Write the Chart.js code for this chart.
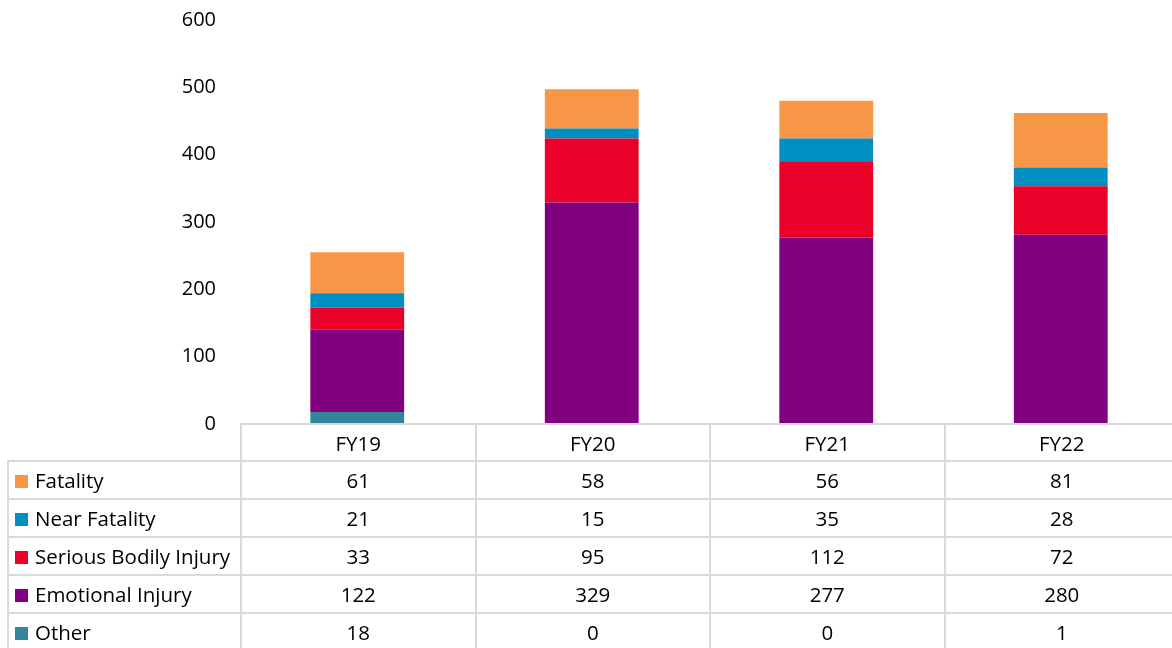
<!DOCTYPE html>
<html>
<head>
<meta charset="utf-8">
<script src="https://cdn.jsdelivr.net/npm/chart.js@4"></script>
<style>
  html, body { margin: 0; padding: 0; background: #fff; overflow: hidden; }
  #wrap { position: relative; width: 1178px; height: 648px; }
  #chart { position: absolute; left: 0; top: 0; }
  #tbl { position: absolute; border-collapse: collapse; table-layout: fixed;
         font-family: "Open Sans", sans-serif; font-size: 20.5px; color: #000; }
  #tbl td { border: 2px solid #d9d9d9; padding: 0; text-align: center; white-space: nowrap; overflow: hidden; line-height: 20px; }
  #tbl td.lab { text-align: left; padding-left: 6px; }
  #tbl td.blank { border-top: none; border-left: none; }
  .key { display: inline-block; width: 13px; height: 13px; margin-right: 7px; vertical-align: 0px; }
</style>
</head>
<body>
<div id="wrap">
  <canvas id="chart" width="1178" height="648"></canvas>
  <table id="tbl"></table>
</div>
<script>
const categories = ["FY19", "FY20", "FY21", "FY22"];
const fatality = [61, 58, 56, 81];
const nearFatality = [21, 15, 35, 28];
const seriousBodilyInjury = [33, 95, 112, 72];
const emotionalInjury = [122, 329, 277, 280];
const other = [18, 0, 0, 1];
const yTicks = [0, 100, 200, 300, 400, 500, 600];

// stacked bottom -> top
const series = [
  { label: "Other", data: other, color: "#31859c" },
  { label: "Emotional Injury", data: emotionalInjury, color: "#800080" },
  { label: "Serious Bodily Injury", data: seriousBodilyInjury, color: "#ea0029" },
  { label: "Near Fatality", data: nearFatality, color: "#008fc0" },
  { label: "Fatality", data: fatality, color: "#f79646" }
];

const FONT = "'Open Sans', sans-serif";

function buildTable(chart) {
  const tbl = document.getElementById("tbl");
  const area = chart.chartArea;
  const xs = chart.scales.x;
  const colW = (area.right - area.left) / categories.length;
  const left0 = 7;
  tbl.style.left = left0 + "px";
  tbl.style.top = (area.bottom - 1) + "px";
  let html = "<colgroup><col style='width:" + (area.left - left0) + "px'>";
  categories.forEach(() => { html += "<col style='width:" + colW + "px'>"; });
  html += "</colgroup>";
  html += "<tr style='height:37px'><td class='blank'></td>";
  categories.forEach((c, i) => { html += "<td>" + xs.getLabelForValue(i) + "</td>"; });
  html += "</tr>";
  series.slice().reverse().forEach(s => {
    html += "<tr style='height:38px'><td class='lab'><span class='key' style='background:" + s.color + "'></span>" + s.label + "</td>";
    s.data.forEach(v => { html += "<td>" + v + "</td>"; });
    html += "</tr>";
  });
  tbl.innerHTML = html;
  tbl.style.width = (area.left - left0 + colW * categories.length) + "px";
}

new Chart(document.getElementById("chart"), {
  type: "bar",
  data: {
    labels: categories,
    datasets: series.map(s => ({
      label: s.label,
      data: s.data,
      backgroundColor: s.color,
      borderWidth: 0,
      barPercentage: 0.4,
      categoryPercentage: 1
    }))
  },
  options: {
    responsive: false,
    animation: false,
    layout: { padding: { top: 20, right: 0, bottom: 224, left: 0 } },
    plugins: { legend: { display: false }, tooltip: { enabled: false } },
    scales: {
      x: { stacked: true, display: false },
      y: {
        stacked: true,
        min: 0,
        max: 600,
        afterBuildTicks: (scale) => { scale.ticks = yTicks.map(v => ({ value: v })); },
        afterFit: (scale) => { scale.width = 240; },
        grid: { display: false, drawTicks: true, tickLength: 24 },
        border: { display: false },
        ticks: { padding: 0, color: "#000", font: { family: FONT, size: 20 } }
      }
    }
  },
  plugins: [{ id: "dataTable", afterRender: (chart) => { if (!chart._tblDone) { chart._tblDone = true; buildTable(chart); } } }]
});
</script>
</body>
</html>
